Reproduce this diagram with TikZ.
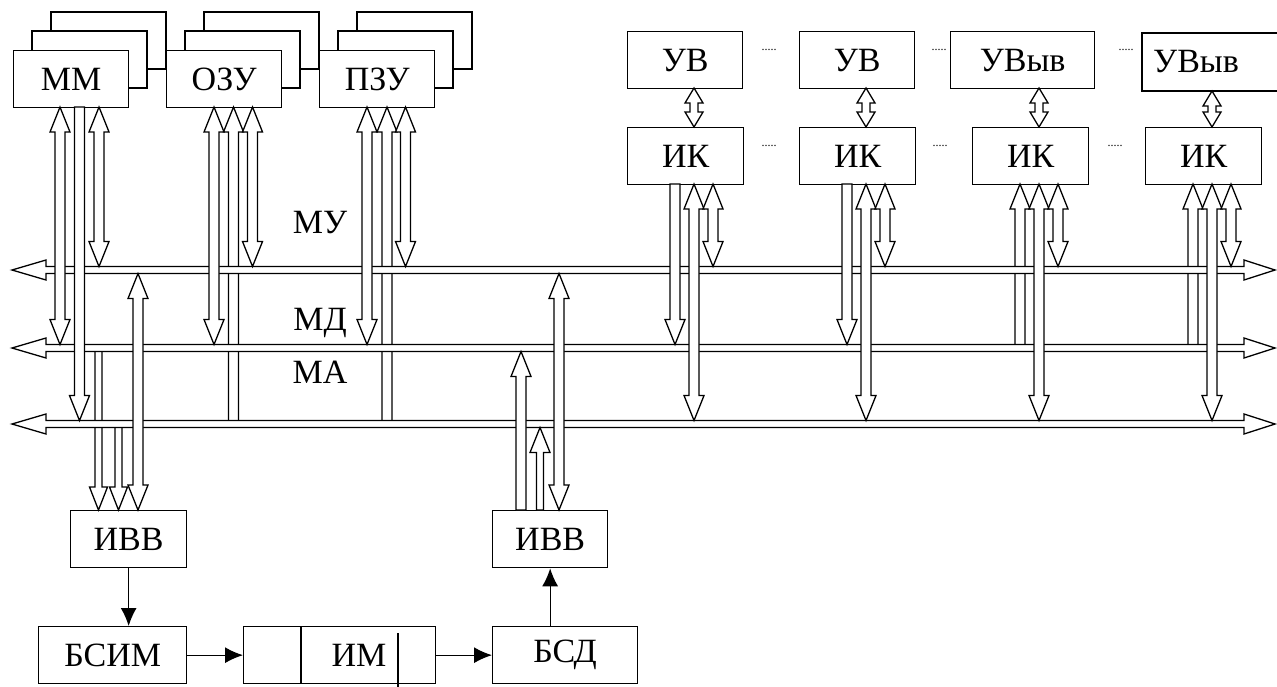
\documentclass[tikz,border=0pt]{standalone}
\usepackage{fontspec}
\setmainfont{Liberation Serif}
\usetikzlibrary{arrows.meta,calc}

% hollow arrow sizes: shaft half width, head half width, head length
\def\arS{5}
\def\arH{10}
\def\arL{25}
% head at both ends
\newcommand{\hboth}[3]{%
  \filldraw[hol] ({#1},{#2}) -- ({#1+\arH},{#2+\arL}) -- ({#1+\arS},{#2+\arL})
    -- ({#1+\arS},{#3-\arL}) -- ({#1+\arH},{#3-\arL}) -- ({#1},{#3})
    -- ({#1-\arH},{#3-\arL}) -- ({#1-\arS},{#3-\arL})
    -- ({#1-\arS},{#2+\arL}) -- ({#1-\arH},{#2+\arL}) -- cycle;}
% head at the upper end only
\newcommand{\hup}[3]{%
  \filldraw[hol] ({#1},{#2}) -- ({#1+\arH},{#2+\arL}) -- ({#1+\arS},{#2+\arL})
    -- ({#1+\arS},{#3}) -- ({#1-\arS},{#3})
    -- ({#1-\arS},{#2+\arL}) -- ({#1-\arH},{#2+\arL}) -- cycle;}
% head at the lower end only
\newcommand{\hdown}[3]{%
  \filldraw[hol] ({#1-\arS},{#2}) -- ({#1+\arS},{#2})
    -- ({#1+\arS},{#3-\arL}) -- ({#1+\arH},{#3-\arL}) -- ({#1},{#3})
    -- ({#1-\arH},{#3-\arL}) -- ({#1-\arS},{#3-\arL}) -- cycle;}
% bus with heads at both sides
\newcommand{\hbus}[1]{%
  \filldraw[hol] (12,{#1}) -- (46,{#1-10}) -- (46,{#1-3.5}) -- (1244,{#1-3.5})
    -- (1244,{#1-10}) -- (1275,{#1}) -- (1244,{#1+10}) -- (1244,{#1+3.5})
    -- (46,{#1+3.5}) -- (46,{#1+10}) -- cycle;}

\tikzset{
  blk/.style={draw, fill=white, line width=0.65pt, anchor=north west,
    minimum width={#1*0.5pt}, minimum height=28.5pt, inner sep=0pt,
    font=\fontsize{17}{20}\selectfont},
  blk/.default=116,
  hol/.style={draw, fill=white, line width=0.65pt, line join=miter},
  sig/.style={-{Latex[length=9pt,width=8pt]}, line width=0.65pt},
  lbl/.style={font=\fontsize{17}{20}\selectfont, inner sep=0pt},
  dots/.style={font=\fontsize{6}{7}\selectfont, inner sep=0pt},
}

\begin{document}
\begin{tikzpicture}[x=0.5pt, y=-0.5pt]
  \useasboundingbox (0,0) rectangle (1277,686);
  \clip (0,0) rectangle (1277,686);

  % memory blocks, stacked
  \foreach \nm/\x/\t in {mm/13/ММ, ozu/166/ОЗУ, pzu/319/ПЗУ}{
    \draw[hol] ({\x+38},12) rectangle ({\x+38+115},69);
    \draw[hol] ({\x+19},31) rectangle ({\x+19+115},88);
    \node[blk=115] (\nm) at (\x,50) {\t};
  }

  % devices and channels
  \node[blk=115] (uv1) at (627,31) {УВ};
  \node[blk=115] (uv2) at (799,31) {УВ};
  \node[blk=144] (uv3) at (950,31) {УВыв};
  \draw[hol] (1142,33) rectangle (1300,91);
  \node[lbl] (uv4) at (1196,62) {УВыв};
  \foreach \nm/\x in {ik1/627, ik2/799, ik3/972, ik4/1145}
    \node[blk] (\nm) at (\x,127) {ИК};
  \node[dots] (d1) at (769,50) {.....};
  \node[dots] (d2) at (939,50) {.....};
  \node[dots] (d3) at (1126,50) {.....};
  \node[dots] (d4) at (769,146) {.....};
  \node[dots] (d5) at (940,146) {.....};
  \node[dots] (d6) at (1115,146) {.....};

  % lower part
  \node[blk] (ivvL) at (70,510) {ИВВ};
  \node[blk=115] (ivvR) at (492,510) {ИВВ};
  \node[blk=148] (bsim) at (38,626) {БСИМ};
  \node[blk=192] (im) at (243,626) {};
  \node[lbl] (imt) at (359,655) {ИМ};
  \draw[line width=0.65pt] (301,626) -- (301,683);
  \draw[line width=0.65pt] (398,633) -- (398,690);
  \node[blk=145] (bsd) at (492,626) {БСД};

  \draw[sig] (ivvL.south) -- (ivvL.south |- bsim.north);
  \draw[sig] (bsim.east) -- (im.west);
  \draw[sig] (im.east) -- (bsd.west);
  \draw[sig] (ivvR.south |- bsd.north) -- (ivvR.south);

  % arrows running under the buses
  \hup{233.5}{107}{424}
  \hup{387}{107}{424}
  \foreach \x in {972,1145}{\hup{\x+48}{184}{348}}
  {\def\arS{3.5}\def\arH{9}\def\arL{23}
   \hdown{98.5}{348}{510}
   \hdown{118.5}{424}{510}}

  % buses
  \hbus{270}
  \hbus{348}
  \hbus{424}
  \node[lbl] (lmu) at (320,223) {МУ};
  \node[lbl] (lmd) at (320,323) {МД};
  \node[lbl] (lma) at (320,372) {МА};

  % arrows over the buses
  \hboth{60}{107}{344.5}
  \hdown{79.5}{107}{420.5}
  \hboth{99}{107}{266.5}
  \foreach \x in {166,319}{
    \hboth{\x+48}{107}{344.5}
    \hboth{\x+86.5}{107}{266.5}
  }
  \foreach \x in {627,799}{\hdown{\x+48}{184}{344.5}}
  \foreach \x in {627,799,972,1145}{
    \hboth{\x+67}{184}{420.5}
    \hboth{\x+86}{184}{266.5}
  }
  \hboth{138}{273.5}{510}
  \hup{521}{351.5}{510}
  {\def\arS{3.5}\hup{540}{427.5}{510}}
  \hboth{559}{273.5}{510}

  % device to channel
  {\def\arS{4}\def\arH{9}\def\arL{15}
   \foreach \x in {627,799,972}{\hboth{\x+67}{88}{127}}
   \hboth{1212}{91}{127}}
\end{tikzpicture}
\end{document}
